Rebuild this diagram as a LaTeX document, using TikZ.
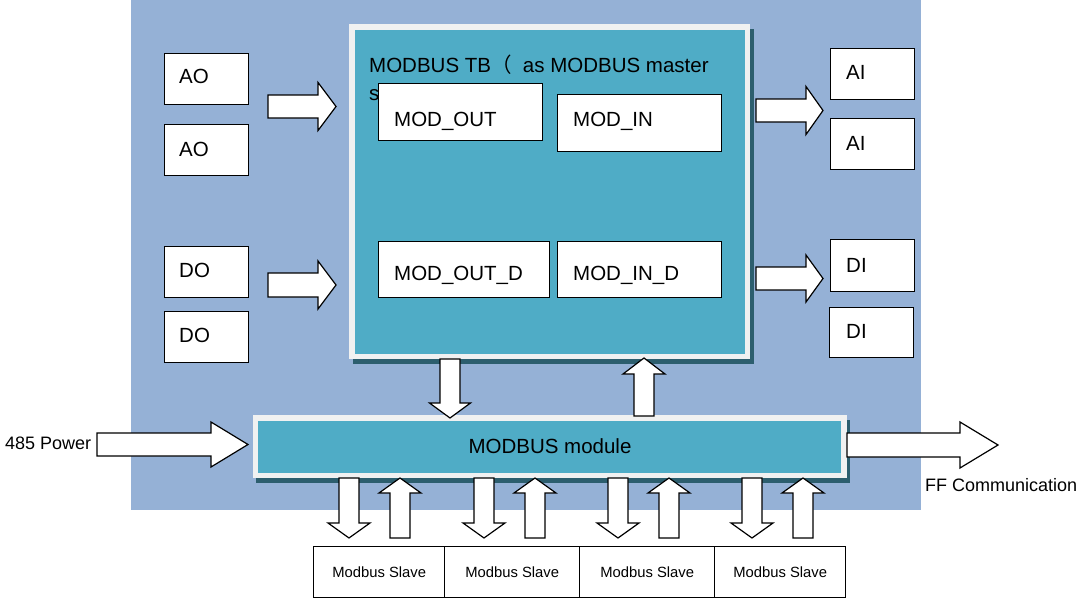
\documentclass[tikz,border=0pt]{standalone}
\usepackage{fontspec}
\setmainfont{Liberation Sans}
\newfontfamily\cjk{Noto Sans CJK SC}
\definecolor{bgblue}{RGB}{149,177,214}
\definecolor{tealfill}{RGB}{79,172,198}
\definecolor{framegray}{RGB}{240,241,241}
\definecolor{shadowc}{RGB}{44,94,110}
\newcommand\arrowR[6]{%
  \draw[barrow] (#1,#3-#4) -- (#6,#3-#4) -- (#6,#3-#5) -- (#2,#3) -- (#6,#3+#5) -- (#6,#3+#4) -- (#1,#3+#4) -- cycle;}
\newcommand\vblockarrow[6]{%
  \draw[barrow] (#1-#4,#2) -- (#1+#4,#2) -- (#1+#4,#6) -- (#1+#5,#6) -- (#1,#3) -- (#1-#5,#6) -- (#1-#4,#6) -- cycle;}
\newcommand\rectnode[6]{%
  \node[#2, minimum width={(#5-#3)*1pt}, minimum height={(#6-#4)*1pt}] (#1) at (#3,#4) {};}
\begin{document}
\begin{tikzpicture}[x=1pt,y=-1pt,
  box/.style={draw=black, line width=1.3pt, fill=white, inner sep=0pt, anchor=north west},
  plain/.style={inner sep=0pt, anchor=north west},
  lbl/.style={anchor=base west, inner sep=0pt, font=\fontsize{20.5}{24}\selectfont},
  small/.style={inner sep=0pt, font=\fontsize{18}{22}\selectfont},
  slavelbl/.style={font=\fontsize{14.8}{18}\selectfont},
  barrow/.style={draw=black, fill=white, line width=1.2pt, line join=miter}]
\useasboundingbox (0,0) rectangle (1081,602);
% background
\rectnode{bg}{plain, fill=bgblue}{131}{0}{921}{510}
% TB block
\rectnode{tbshadow}{plain, fill=shadowc}{353}{29}{754}{364}
\rectnode{tbframe}{plain, fill=framegray}{349}{24}{750}{359}
\rectnode{tb}{plain, fill=tealfill}{355}{30}{745}{354}
\node[lbl] (title) at (369,73) {MODBUS TB{\cjk （}\ \ as MODBUS master};
\node[lbl] (title2) at (369,100) {s};
\rectnode{modout}{box}{378}{83}{542}{140}
\rectnode{modin}{box}{557}{94}{721}{151}
\rectnode{modoutd}{box}{378}{241}{549}{297}
\rectnode{modind}{box}{557}{241}{721}{297}
\node[lbl] (tmodout) at (394,126) {MOD\_OUT};
\node[lbl] (tmodin) at (573,126) {MOD\_IN};
\node[lbl] (tmodoutd) at (394,280) {MOD\_OUT\_D};
\node[lbl] (tmodind) at (573,280) {MOD\_IN\_D};
% left boxes
\rectnode{ao1}{box}{164}{53}{248}{104}
\rectnode{ao2}{box}{164}{124}{248}{175}
\rectnode{do1}{box}{164}{246}{248}{297}
\rectnode{do2}{box}{164}{311}{248}{362}
\node[lbl] (tao1) at (179,84) {AO};
\node[lbl] (tao2) at (179,156) {AO};
\node[lbl] (tdo1) at (179,277) {DO};
\node[lbl] (tdo2) at (179,342) {DO};
% right boxes
\rectnode{ai1}{box}{830}{48}{914}{99}
\rectnode{ai2}{box}{830}{118}{914}{169}
\rectnode{di1}{box}{830}{239}{914}{291}
\rectnode{di2}{box}{829}{307}{913}{357}
\node[lbl] (tai1) at (846,80) {AI};
\node[lbl] (tai2) at (846,150) {AI};
\node[lbl] (tdi1) at (846,272) {DI};
\node[lbl] (tdi2) at (846,338) {DI};
% side arrows
\arrowR{268}{336}{106.5}{11.5}{24}{318}
\arrowR{268}{336}{285}{12}{24}{318}
\arrowR{756}{823}{110.5}{11.5}{24}{806}
\arrowR{756}{823}{278.5}{11.5}{23.5}{806}
% module
\rectnode{modshadow}{plain, fill=shadowc}{256}{420}{850}{483}
\rectnode{modframe}{plain, fill=framegray}{253}{415}{847}{478}
\rectnode{mod}{plain, fill=tealfill}{258}{421}{841}{473}
\node[lbl, anchor=base] (tmod) at (550,453.5) {MODBUS module};
% TB <-> module arrows
\vblockarrow{450}{359}{418}{10}{20.5}{403}
\vblockarrow{644}{416}{358}{10}{21}{374}
% power and FF
\arrowR{97}{248}{444.5}{11.5}{22.5}{211}
\arrowR{847}{998}{445}{12}{23}{960}
\node[small, anchor=base west] (tpower) at (5,449) {485 Power};
\node[small, anchor=base west] (tff) at (925,491) {FF Communication};
% slave arrows
\foreach \c in {349,484,618,752}{
  \vblockarrow{\c}{478}{538}{10}{21}{523}
  \vblockarrow{\c+51}{538}{478}{10}{21}{493}
}
% slaves
\rectnode{s1}{box}{313}{546}{444}{597}
\rectnode{s2}{box}{444}{546}{579}{597}
\rectnode{s3}{box}{579}{546}{714}{597}
\rectnode{s4}{box}{714}{546}{845}{597}
\foreach \n in {s1,s2,s3,s4}{
  \node[slavelbl] (t\n) at (\n.center) {Modbus Slave};
}
\end{tikzpicture}
\end{document}
